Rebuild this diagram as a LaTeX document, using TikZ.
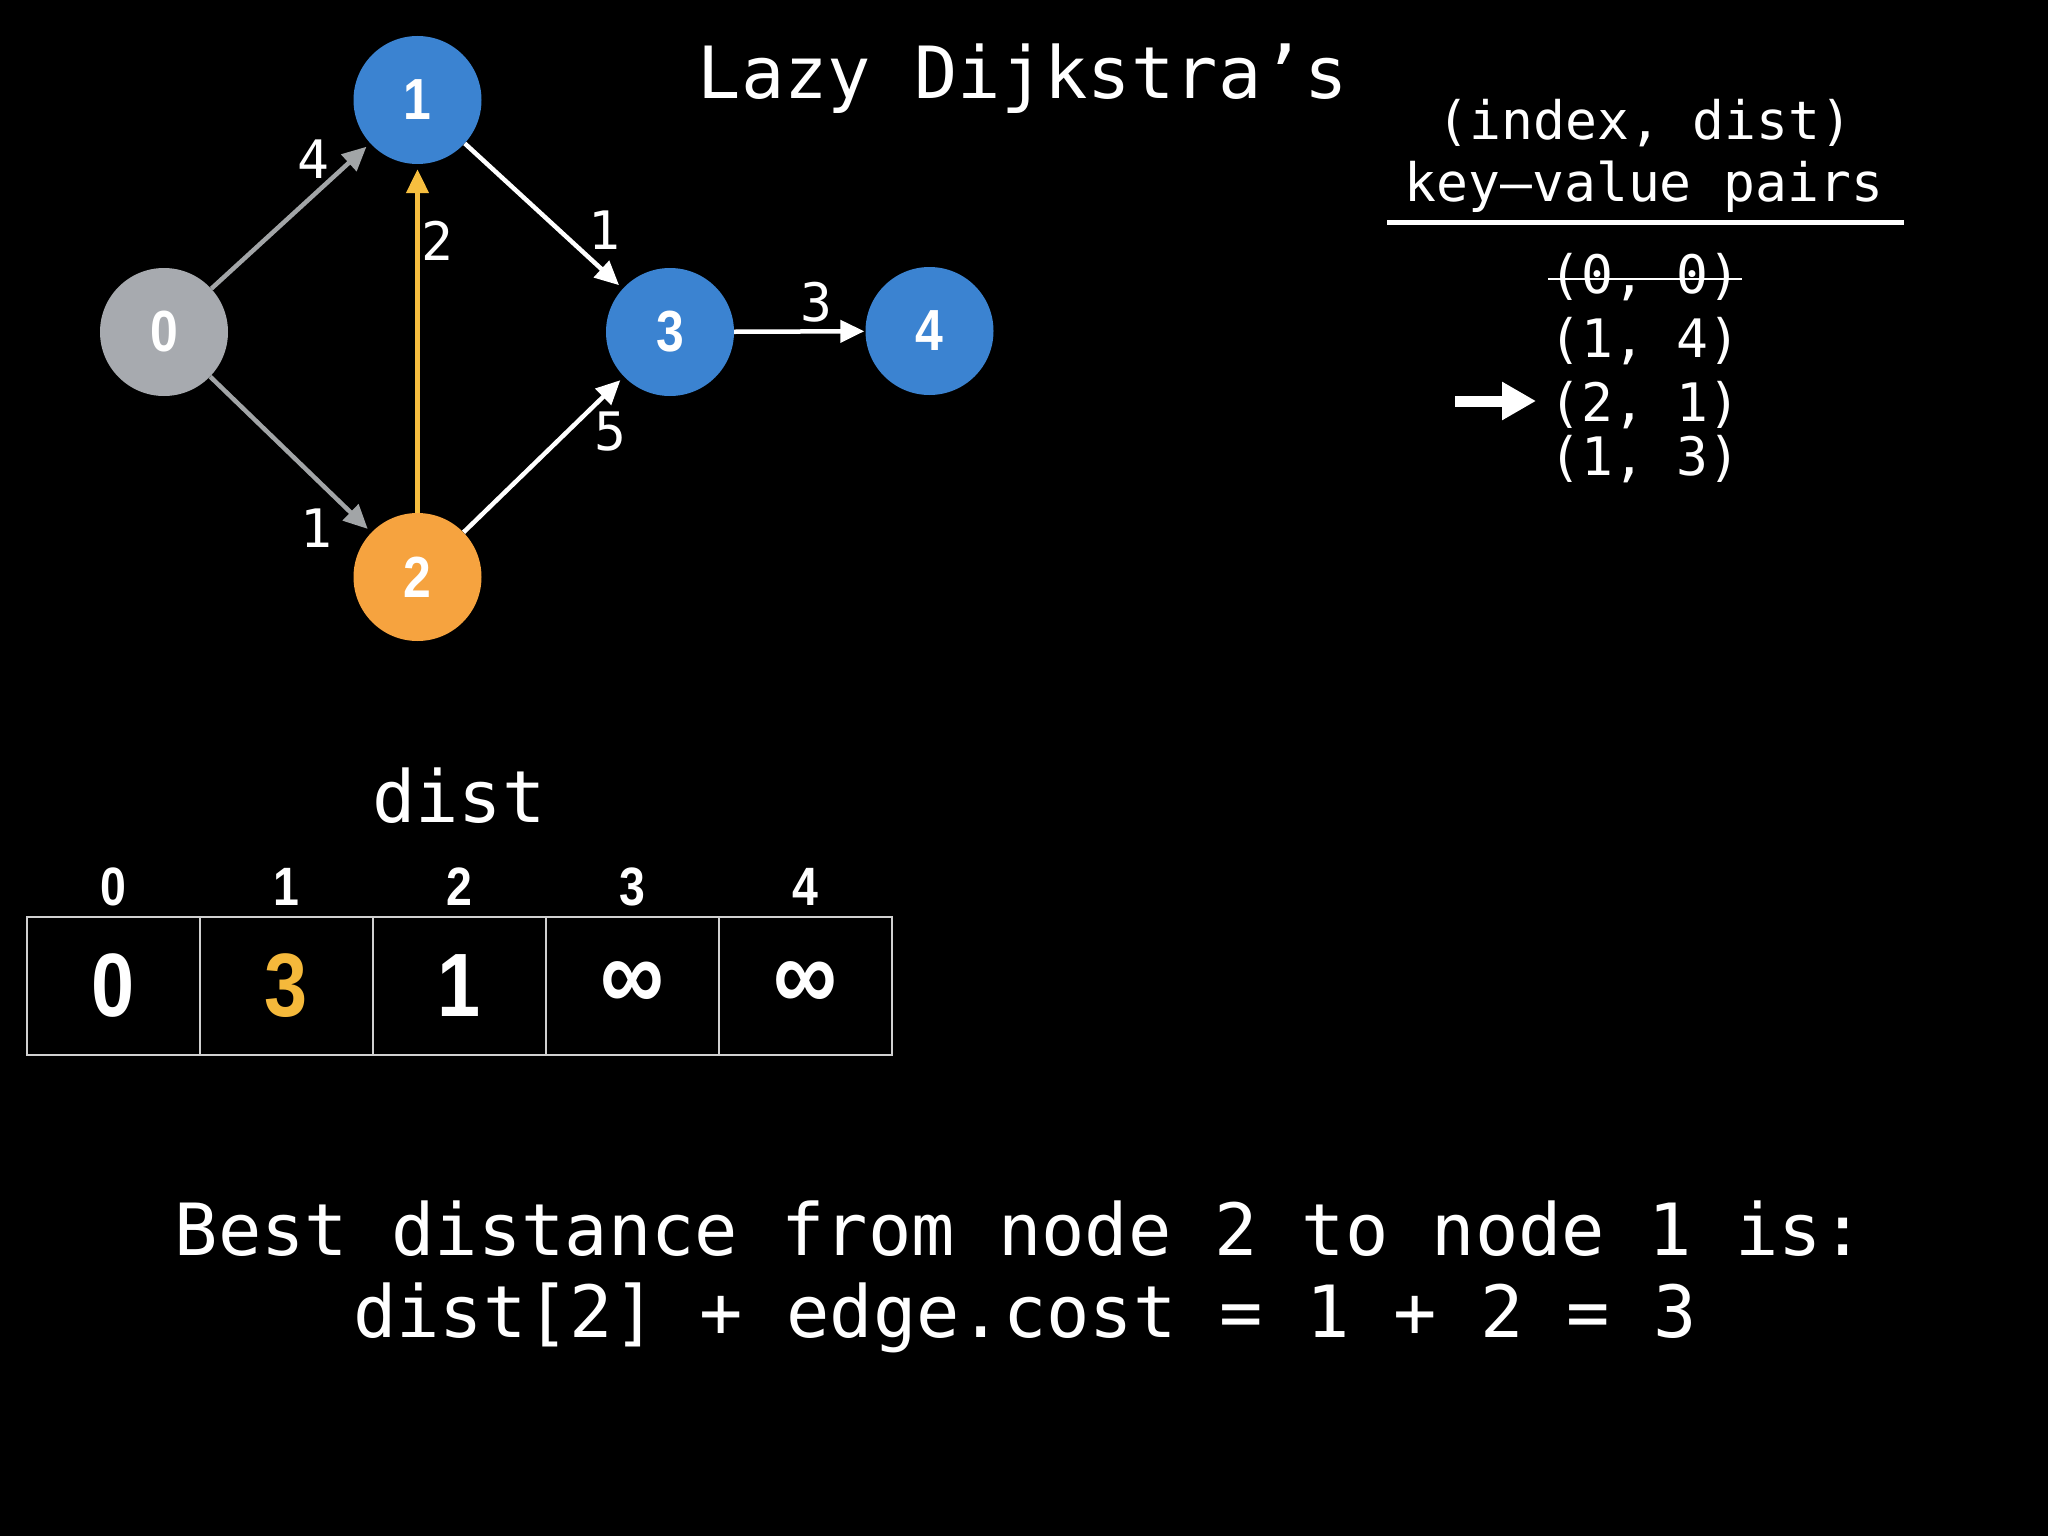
\documentclass[tikz,border=0pt]{standalone}
\usepackage{fontspec}
\setmainfont{DejaVu Sans Mono}
\newfontfamily\mono{DejaVu Sans Mono}
\newfontfamily\lab[FakeStretch=0.86]{Liberation Sans}
\usetikzlibrary{arrows.meta}
\definecolor{nblue}{HTML}{3B83D1}
\definecolor{ngray}{HTML}{A7AAAF}
\definecolor{norange}{HTML}{F6A33F}
\definecolor{eyellow}{HTML}{F6BE3F}
\definecolor{egray}{HTML}{A2A5A7}
\definecolor{gold}{HTML}{F5B93B}
\definecolor{cellline}{HTML}{D0D0D0}
\newcommand{\infsym}{{\fontsize{104}{104}\selectfont ∞}}
\begin{document}
\begin{tikzpicture}[x=1pt,y=-1pt,
  gnode/.style={circle,minimum size=128pt,inner sep=0pt,text=white,font=\lab\bfseries\fontsize{58}{58}\selectfont},
  edge/.style={line width=4.5pt,-{Triangle[length=24pt,width=22pt]},shorten >=5pt},
  elab/.style={text=white,inner sep=0pt,font=\mono\fontsize{53}{53}\selectfont},
  bigtxt/.style={text=white,inner sep=0pt,anchor=base,font=\mono\fontsize{72}{72}\selectfont},
  smalltxt/.style={text=white,inner sep=0pt,anchor=base,font=\mono\fontsize{53}{53}\selectfont},
  cell/.style={draw=cellline,line width=2pt,minimum width=173pt,minimum height=138pt,inner sep=0pt,text=white,font=\lab\bfseries\fontsize{90}{90}\selectfont},
  idx/.style={text=white,inner sep=0pt,font=\lab\bfseries\fontsize{54}{54}\selectfont}
]
\fill[black] (0,0) rectangle (2048,1536);
\useasboundingbox (0,0) rectangle (2048,1536);

% graph nodes
\node[gnode,fill=ngray] (n0) at (164,332) {0};
\node[gnode,fill=nblue] (n1) at (417.5,100) {1};
\node[gnode,fill=norange] (n2) at (417.5,577) {2};
\node[gnode,fill=nblue] (n3) at (670,332) {3};
\node[gnode,fill=nblue] (n4) at (929.5,331) {4};

% edges
\draw[edge,egray] (n0) -- (n1);
\draw[edge,egray] (n0) -- (n2);
\draw[edge,eyellow] (n2) -- (n1);
\draw[edge,white] (n1) -- (n3);
\draw[edge,white] (n2) -- (n3);
\draw[edge,white,shorten >=1pt] (n3) -- (n4);

% edge labels
\node[elab] (l01) at (313,159) {4};
\node[elab] (l02) at (316,528) {1};
\node[elab] (l21) at (437,241) {2};
\node[elab] (l13) at (604,230) {1};
\node[elab] (l23) at (610,432) {5};
\node[elab] (l34) at (816,302) {3};

% title
\node[bigtxt] (title) at (1023,99) {Lazy Dijkstra’s};

% priority queue
\node[smalltxt] (h1) at (1645,140) {(index, dist)};
\node[smalltxt] (h2) at (1644,201) {key–value pairs};
\draw[white,line width=5pt] (1387,222.5) -- (1904,222.5);
\node[smalltxt] (q0) at (1645,293) {(0, 0)};
\draw[white,line width=2pt] (1548,279) -- (1742,279);
\node[smalltxt] (q1) at (1645,357) {(1, 4)};
\node[smalltxt] (q2) at (1645,421) {(2, 1)};
\node[smalltxt] (q3) at (1645,475) {(1, 3)};
\coordinate (ptr) at (1455,401);
\draw[white,line width=11pt,-{Triangle[length=34pt,width=36pt]},shorten >=13pt] (ptr) -- (ptr -| q2.west);

% dist array
\node[bigtxt] (distlab) at (459,822) {dist};
\foreach \i/\x/\v in {0/113.5/0,1/286.5/\textcolor{gold}{3},2/459.5/1,3/632.5/\infsym,4/805.5/\infsym}{
  \node[idx] (i\i) at (\x,887) {\i};
  \node[cell] (c\i) at (\x,986) {\v};
}

% bottom text
\node[bigtxt] (t1) at (1020,1255) {Best distance from node 2 to node 1 is:};
\node[bigtxt] (t2) at (1025,1337) {dist[2] + edge.cost = 1 + 2 = 3};
\end{tikzpicture}
\end{document}
